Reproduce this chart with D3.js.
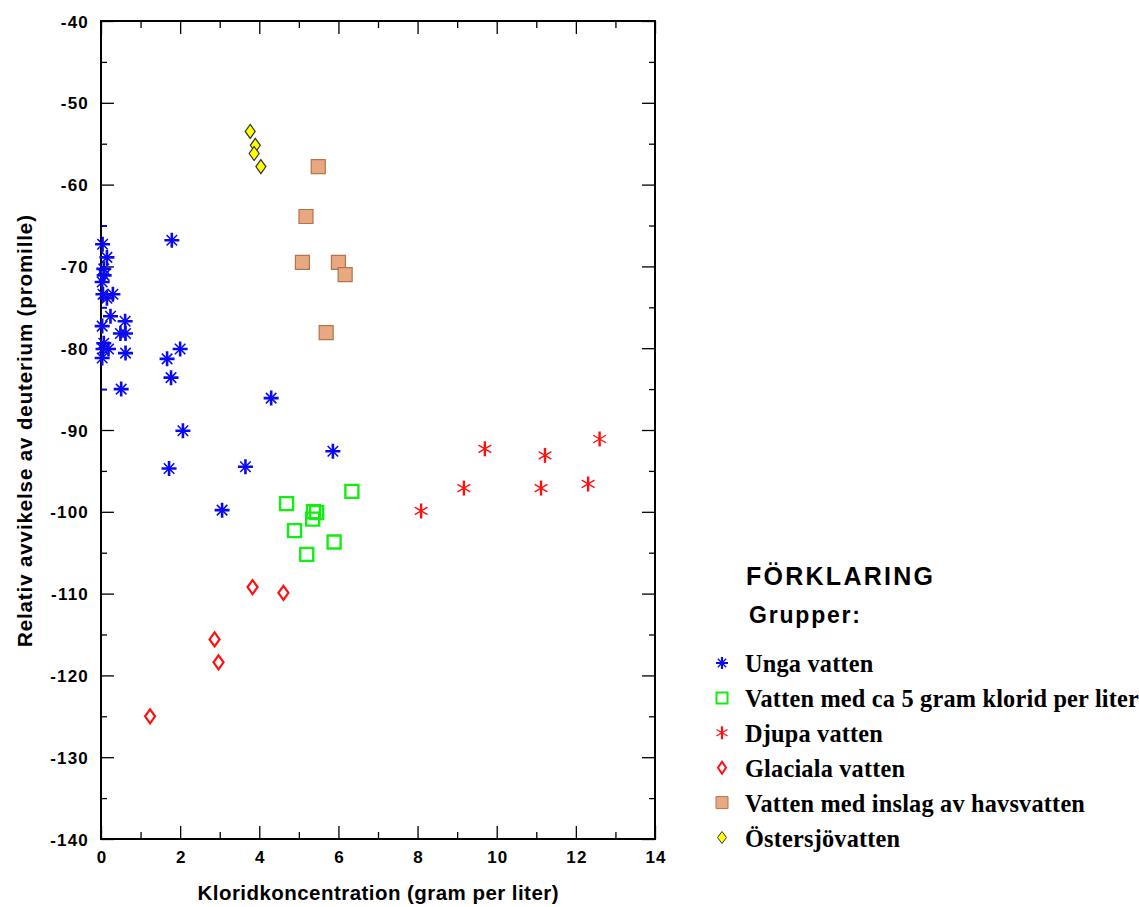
<!DOCTYPE html>
<html>
<head>
<meta charset="utf-8">
<script src="https://cdn.jsdelivr.net/npm/d3@7"></script>
<style>
  html, body { margin: 0; padding: 0; background: #fff; }
  svg { display: block; }
</style>
</head>
<body>
<svg id="chart" width="1139" height="907"></svg>
<script>
// Kloridkoncentration (g/l) and deuterium deviation (promille) per group
const ungaVatten = [
  [0.04, -67.3], [0.15, -68.9], [0.07, -70.3], [0.08, -71.1], [0.03, -71.9],
  [0.05, -73.4], [0.30, -73.4], [0.15, -73.9], [0.24, -76.1], [0.61, -76.7],
  [0.03, -77.3], [0.49, -78.2], [0.62, -78.2], [0.07, -79.4], [0.05, -80.1],
  [0.19, -80.1], [0.62, -80.6], [0.03, -81.2], [0.51, -85.0], [1.79, -66.8],
  [1.67, -81.3], [2.00, -80.1], [1.77, -83.6], [4.30, -86.1], [2.07, -90.1],
  [1.72, -94.7], [3.65, -94.5], [3.06, -99.8], [5.86, -92.6]
];
const klorid5 = [
  [4.69, -99.0], [5.37, -100.0], [5.45, -100.1], [5.35, -100.9],
  [4.89, -102.3], [6.34, -97.5], [5.89, -103.7], [5.20, -105.2]
];
const djupaVatten = [
  [8.09, -99.9], [9.17, -97.1], [9.70, -92.3], [11.12, -97.1],
  [11.22, -93.1], [12.31, -96.6], [12.60, -91.1]
];
const glacialaVatten = [
  [3.83, -109.2], [4.61, -109.9], [2.87, -115.6], [2.97, -118.4], [1.24, -125.0]
];
const havsvatten = [
  [5.49, -57.8], [5.18, -63.9], [5.09, -69.5], [6.00, -69.5], [6.17, -71.0], [5.69, -78.1]
];
const ostersjovatten = [
  [3.77, -53.5], [3.90, -55.2], [3.87, -56.2], [4.04, -57.8]
];

const xMajorTicks = [0, 2, 4, 6, 8, 10, 12, 14];
const xMinorTicks = [1, 3, 5, 7, 9, 11, 13];
const yMajorTicks = [-40, -50, -60, -70, -80, -90, -100, -110, -120, -130, -140];
const yMinorTicks = [-45, -55, -65, -75, -85, -95, -105, -115, -125, -135];

const legendLabels = [
  "Unga vatten",
  "Vatten med ca 5 gram klorid per liter",
  "Djupa vatten",
  "Glaciala vatten",
  "Vatten med inslag av havsvatten",
  "Östersjövatten"
];

const svg = d3.select("#chart");
const plot = { left: 101, right: 655, top: 21, bottom: 839 };

const x = d3.scaleLinear().domain([0, 14]).range([plot.left, plot.right]);
const y = d3.scaleLinear().domain([-140, -40]).range([plot.bottom, plot.top]);

// plain hyphen for negative tick labels
const tickFmt = d => String(d);

// ---- marker shapes: each is a list of [path, strokeWidthFactor] parts ----
function asterisk8(r) {
  const plus = d3.path();
  plus.moveTo(-r, 0); plus.lineTo(r, 0);
  plus.moveTo(0, -r); plus.lineTo(0, r);
  const cross = d3.path();
  const d = r * 0.7;
  cross.moveTo(-d, -d); cross.lineTo(d, d);
  cross.moveTo(-d, d); cross.lineTo(d, -d);
  return [[cross.toString(), 0.6], [plus.toString(), 1]];
}
function asterisk6(r) {
  const v = d3.path();
  v.moveTo(0, -r); v.lineTo(0, r);
  const xs = d3.path();
  const u = r * 0.85, t = r * 0.5;
  xs.moveTo(-u, -t); xs.lineTo(u, t);
  xs.moveTo(-u, t); xs.lineTo(u, -t);
  return [[xs.toString(), 0.6], [v.toString(), 1]];
}
function squareP(h) {
  return [[`M${-h},${-h}H${h}V${h}H${-h}Z`, 1]];
}
function diamondP(w, h) {
  return [[`M0,${-h}L${w},0L0,${h}L${-w},0Z`, 1]];
}

const styles = [
  { data: ungaVatten, d: asterisk8(7.5), ld: asterisk8(6), fill: "none", stroke: "#0a0af0", sw: 2.6, lsw: 2.2 },
  { data: klorid5, d: squareP(6.5), ld: squareP(5.5), fill: "none", stroke: "#11ee11", sw: 2.4, lsw: 2 },
  { data: djupaVatten, d: asterisk6(7.5), ld: asterisk6(6.5), fill: "none", stroke: "#ff1010", sw: 2.4, lsw: 2.2 },
  { data: glacialaVatten, d: diamondP(5, 7), ld: diamondP(4, 6), fill: "none", stroke: "#ff1010", sw: 2.2, lsw: 2 },
  { data: havsvatten, d: squareP(7), ld: squareP(6), fill: "#e8a882", stroke: "#b57448", sw: 1.2, lsw: 1 },
  { data: ostersjovatten, d: diamondP(5, 7), ld: diamondP(4.5, 6), fill: "#ffff00", stroke: "#333333", sw: 1.2, lsw: 1 }
];

// ---- frame and ticks ----
const axisFont = "'Liberation Sans', Arial, sans-serif";

const gx = svg.append("g").attr("transform", `translate(0,${plot.bottom})`)
  .call(d3.axisBottom(x).tickValues(xMajorTicks).tickSize(-13).tickPadding(12).tickFormat(tickFmt));
const gxm = svg.append("g").attr("transform", `translate(0,${plot.bottom})`)
  .call(d3.axisBottom(x).tickValues(xMinorTicks).tickSize(-7).tickFormat(""));
const gxt = svg.append("g").attr("transform", `translate(0,${plot.top})`)
  .call(d3.axisTop(x).tickValues(xMajorTicks).tickSize(-13).tickFormat(""));
const gxtm = svg.append("g").attr("transform", `translate(0,${plot.top})`)
  .call(d3.axisTop(x).tickValues(xMinorTicks).tickSize(-7).tickFormat(""));

const gy = svg.append("g").attr("transform", `translate(${plot.left},0)`)
  .call(d3.axisLeft(y).tickValues(yMajorTicks).tickSize(-13).tickPadding(13).tickFormat(tickFmt));
const gym = svg.append("g").attr("transform", `translate(${plot.left},0)`)
  .call(d3.axisLeft(y).tickValues(yMinorTicks).tickSize(-6).tickFormat(""));
const gyr = svg.append("g").attr("transform", `translate(${plot.right},0)`)
  .call(d3.axisRight(y).tickValues(yMajorTicks).tickSize(-13).tickFormat(""));
const gyrm = svg.append("g").attr("transform", `translate(${plot.right},0)`)
  .call(d3.axisRight(y).tickValues(yMinorTicks).tickSize(-6).tickFormat(""));

[gx, gxm, gxt, gxtm, gy, gym, gyr, gyrm].forEach(g => {
  g.select(".domain").remove();
  g.selectAll(".tick line").attr("stroke", "#000").attr("stroke-width", 1.3);
  g.selectAll(".tick text")
    .attr("fill", "#000")
    .style("font-family", axisFont)
    .style("font-weight", "bold")
    .style("font-size", "17px")
    .style("letter-spacing", "1.2px");
});
gx.selectAll(".tick text").attr("dy", "0.71em").attr("dx", "0.6px");
gy.selectAll(".tick text").attr("x", -12).attr("dy", "0.36em");

// short left-axis ticks inside the dense blue cluster come out in the series colour
gym.selectAll(".tick line")
  .filter(d => d >= -85 && d <= -65)
  .attr("stroke", "#0a0af0").attr("stroke-width", 2);

svg.append("rect")
  .attr("x", plot.left).attr("y", plot.top)
  .attr("width", plot.right - plot.left).attr("height", plot.bottom - plot.top)
  .attr("fill", "none").attr("stroke", "#000").attr("stroke-width", 2);

// ---- data points ----
function drawMarker(sel, parts, s, sw) {
  parts.forEach(([d, f]) => {
    sel.append("path")
      .attr("d", d)
      .attr("fill", s.fill)
      .attr("stroke", s.stroke)
      .attr("stroke-width", sw * f);
  });
}

styles.forEach(s => {
  svg.append("g").selectAll("g")
    .data(s.data)
    .join("g")
    .attr("transform", d => `translate(${x(d[0])},${y(d[1])})`)
    .each(function () { drawMarker(d3.select(this), s.d, s, s.sw); });
});

// ---- axis titles ----
svg.append("text")
  .attr("x", 378).attr("y", 900)
  .attr("text-anchor", "middle")
  .style("font-family", axisFont).style("font-weight", "bold").style("font-size", "20.5px")
  .attr("textLength", 361).attr("lengthAdjust", "spacing")
  .text("Kloridkoncentration (gram per liter)");

svg.append("text")
  .attr("transform", "translate(32,431) rotate(-90)")
  .attr("text-anchor", "middle")
  .style("font-family", axisFont).style("font-weight", "bold").style("font-size", "20.5px")
  .attr("textLength", 432).attr("lengthAdjust", "spacing")
  .text("Relativ avvikelse av deuterium (promille)");

// ---- legend ----
svg.append("text")
  .attr("x", 746).attr("y", 585)
  .style("font-family", axisFont).style("font-weight", "bold").style("font-size", "25px")
  .attr("textLength", 187).attr("lengthAdjust", "spacing")
  .text("FÖRKLARING");

svg.append("text")
  .attr("x", 749).attr("y", 623)
  .style("font-family", axisFont).style("font-weight", "bold").style("font-size", "23px")
  .attr("textLength", 111).attr("lengthAdjust", "spacing")
  .text("Grupper:");

const legend = svg.append("g");
styles.forEach((s, i) => {
  const baseY = 672 + i * 34.9;
  const m = legend.append("g").attr("transform", `translate(722,${baseY - 9})`);
  drawMarker(m, s.ld, s, s.lsw);
  legend.append("text")
    .attr("x", 745).attr("y", baseY)
    .style("font-family", "'Liberation Serif', 'Times New Roman', serif")
    .style("font-weight", "bold")
    .style("font-size", "24.3px")
    .style("letter-spacing", "0.2px")
    .text(legendLabels[i]);
});
</script>
</body>
</html>
